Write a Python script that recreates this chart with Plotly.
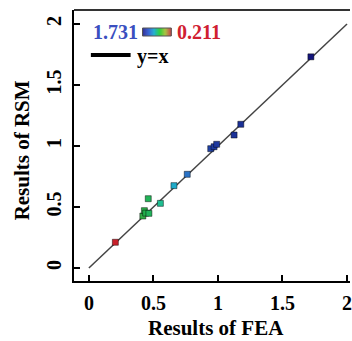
import plotly.graph_objects as go
from plotly.colors import sample_colorscale

# Data
fea = [0.205, 0.418, 0.43, 0.44, 0.465, 0.46, 0.554, 0.659, 0.762, 0.944, 0.97, 0.99, 1.125, 1.177, 1.72]
rsm = [0.211, 0.426, 0.47, 0.45, 0.448, 0.568, 0.53, 0.675, 0.768, 0.978, 0.994, 1.014, 1.09, 1.178, 1.731]
line_xy = [0, 2]
x_ticks = [0, 0.5, 1, 1.5, 2]
y_ticks = [0, 0.5, 1, 1.5, 2]
cmax_label = "1.731"
cmin_label = "0.211"

W, H = 352, 341
L, R, T, B = 74, 0, 10, 60
X0PX, XSCALE = 89, 130
Y0PX, YSCALE = 268, 122
pw, ph = W - L - R, H - T - B

def px(x):
    return (x - L) / pw

def py(y):
    return (H - B - y) / ph

xr = [(L - X0PX) / XSCALE, (W - R - X0PX) / XSCALE]
yr = [(Y0PX - (H - B)) / YSCALE, (Y0PX - T) / YSCALE]

FONT = "Liberation Serif"
scale = [[0, '#c8202a'], [0.07, '#8a9a30'], [0.15, '#22b04a'], [0.23, '#1fbf95'],
         [0.30, '#1fa8cc'], [0.37, '#2a6cc4'], [0.5, '#1e3aa0'], [1, '#14147a']]

fig = go.Figure()
fig.add_trace(go.Scatter(x=line_xy, y=line_xy, mode='lines',
                         line=dict(color='#444444', width=1.5), hoverinfo='skip'))
fig.add_trace(go.Scatter(x=fea, y=rsm, mode='markers',
                         marker=dict(symbol='square', size=6, color=fea, colorscale=scale,
                                     cmin=0.211, cmax=1.731,
                                     line=dict(color='rgba(0,0,0,0.45)', width=1))))

shapes = []
# top frame line
shapes.append(dict(type='line', xref='paper', yref='paper', x0=0, x1=1, y0=1, y1=1,
                   line=dict(color='#333333', width=2)))
# gradient legend bar
grad = ['#1a1a8a', '#1f4fd0', '#20b0d0', '#30d040', '#a0c030', '#c03030']
n = 30
gx0, gx1, gy0, gy1 = 143, 172, 28, 36
cs = [[i / (len(grad) - 1), c] for i, c in enumerate(grad)]
cols = sample_colorscale(cs, [i / (n - 1) for i in range(n)])
for i in range(n):
    a = gx0 + (gx1 - gx0) * i / n
    b = gx0 + (gx1 - gx0) * (i + 1) / n + 0.3
    shapes.append(dict(type='rect', xref='paper', yref='paper', x0=px(a), x1=px(b),
                       y0=py(gy1), y1=py(gy0), fillcolor=cols[i], line=dict(width=0), layer='above'))
shapes.append(dict(type='rect', xref='paper', yref='paper', x0=px(gx0), x1=px(gx1),
                   y0=py(gy1), y1=py(gy0), line=dict(color='#555555', width=1)))
# y=x legend line
shapes.append(dict(type='line', xref='paper', yref='paper', x0=px(91), x1=px(131),
                   y0=py(55), y1=py(55), line=dict(color='black', width=4)))

ann = [
    dict(x=px(91), y=py(32), text=cmax_label, xanchor='left', yanchor='middle',
         font=dict(family=FONT, size=20, color='#3a4fc0', weight='bold')),
    dict(x=px(176), y=py(32), text=cmin_label, xanchor='left', yanchor='middle',
         font=dict(family=FONT, size=20, color='#d02030', weight='bold')),
    dict(x=px(135), y=py(56), text='y=x', xanchor='left', yanchor='middle',
         font=dict(family=FONT, size=20, color='black', weight='bold')),
    dict(x=px(217), y=py(328), text='Results of FEA', xanchor='center', yanchor='middle',
         font=dict(family=FONT, size=21, color='black', weight='bold')),
    dict(x=px(22), y=py(150), text='Results of RSM', xanchor='center', yanchor='middle',
         textangle=-90, font=dict(family=FONT, size=21, color='black', weight='bold')),
]
for a in ann:
    a.update(xref='paper', yref='paper', showarrow=False)

axis_common = dict(showline=True, linecolor='black', linewidth=2, showgrid=False, zeroline=False,
                   ticks='inside', ticklen=6, tickwidth=2, tickcolor='black',
                   ticklabeloverflow='allow',
                   tickfont=dict(family=FONT, size=20, color='black', weight='bold'))
fig.update_layout(
    width=W, height=H, margin=dict(l=L, r=R, t=T, b=B, pad=0),
    paper_bgcolor='white', plot_bgcolor='white', showlegend=False,
    xaxis=dict(range=xr, tickvals=x_ticks, ticktext=[f"{v:g}" for v in x_ticks],
               ticklabelstandoff=3, **axis_common),
    yaxis=dict(range=yr, tickvals=y_ticks, ticktext=[f"{v:g}" for v in y_ticks],
               tickangle=-90, ticklabelstandoff=3, **axis_common),
    shapes=shapes, annotations=ann,
)
fig.write_html("out.html")
